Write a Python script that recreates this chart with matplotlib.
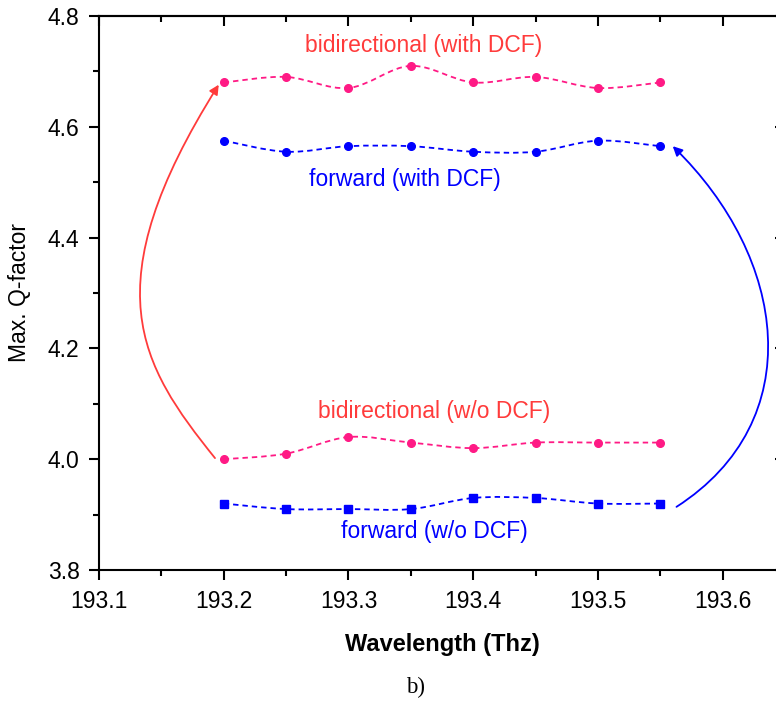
import matplotlib

matplotlib.use("Agg")
import matplotlib.pyplot as plt
import numpy as np
from matplotlib.patches import FancyArrowPatch, PathPatch
from matplotlib.path import Path
from matplotlib.ticker import FormatStrFormatter, MultipleLocator

plt.rcParams["font.family"] = ["Liberation Sans", "DejaVu Sans"]

freq = [193.20, 193.25, 193.30, 193.35, 193.40, 193.45, 193.50, 193.55]
bidir_dcf = [4.68, 4.69, 4.67, 4.71, 4.68, 4.69, 4.67, 4.68]
fwd_dcf = [4.575, 4.555, 4.565, 4.565, 4.555, 4.555, 4.575, 4.565]
bidir_nodcf = [4.00, 4.01, 4.04, 4.03, 4.02, 4.03, 4.03, 4.03]
fwd_nodcf = [3.92, 3.91, 3.91, 3.91, 3.93, 3.93, 3.92, 3.92]

PINK = "#ff1a85"
RED = "#ff3b3b"
BLUE = "#0000ff"

CURVE = [Path.MOVETO, Path.CURVE4, Path.CURVE4, Path.CURVE4]


def smooth_path(x, y):
    # Catmull-Rom through the points, written as cubic Bezier segments
    p = np.column_stack([x, y])
    verts, codes = [p[0]], [Path.MOVETO]
    for i in range(len(p) - 1):
        p0 = p[i - 1] if i > 0 else p[i]
        p3 = p[i + 2] if i + 2 < len(p) else p[i + 1]
        c1 = p[i] + (p[i + 1] - p0) / 6
        c2 = p[i + 1] - (p3 - p[i]) / 6
        verts += [c1, c2, p[i + 1]]
        codes += [Path.CURVE4] * 3
    return Path(verts, codes)


fig = plt.figure(figsize=(7.76, 7.02), dpi=100)
ax = fig.add_axes([99 / 776, 132 / 702, 686 / 776, 554 / 702])

series = [
    (bidir_dcf, PINK, "o"),
    (fwd_dcf, BLUE, "o"),
    (bidir_nodcf, PINK, "o"),
    (fwd_nodcf, BLUE, "s"),
]
for vals, col, mk in series:
    ax.add_patch(PathPatch(smooth_path(freq, vals), fill=False, ec=col,
                           lw=1.3, ls=(0, (3, 2.2))))
    ax.plot(freq, vals, ls="none", marker=mk, ms=5.5, color=col)

txt = dict(fontsize=16.5, ha="center", va="center")
ax.text(193.36, 4.746, "bidirectional (with DCF)", color=RED, **txt)
ax.text(193.345, 4.505, "forward (with DCF)", color=BLUE, **txt)
ax.text(193.369, 4.087, "bidirectional (w/o DCF)", color=RED, **txt)
ax.text(193.369, 3.870, "forward (w/o DCF)", color=BLUE, **txt)

# curved arrows from the w/o-DCF curves up to the with-DCF curves
red_path = Path([(193.193, 4.002), (193.133, 4.170), (193.094, 4.311), (193.196, 4.676)],
                CURVE)
blue_path = Path([(193.563, 3.914), (193.670, 4.069), (193.652, 4.363), (193.560, 4.565)],
                 CURVE)
for pth, col in ((red_path, RED), (blue_path, BLUE)):
    ax.add_patch(FancyArrowPatch(path=pth, arrowstyle="-|>", mutation_scale=14,
                                 color=col, lw=1.3))

ax.set_xlim(193.1, 193.65)
ax.set_ylim(3.8, 4.8)
ax.xaxis.set_major_locator(MultipleLocator(0.1))
ax.xaxis.set_minor_locator(MultipleLocator(0.05))
ax.yaxis.set_major_locator(MultipleLocator(0.2))
ax.yaxis.set_minor_locator(MultipleLocator(0.1))
ax.xaxis.set_major_formatter(FormatStrFormatter("%.1f"))
ax.yaxis.set_major_formatter(FormatStrFormatter("%.1f"))
ax.tick_params(which="both", width=1.5, labelsize=16.5, direction="out",
               top=False, right=False)
ax.tick_params(which="major", length=7.5)
ax.tick_params(which="minor", length=4)
ax.tick_params(axis="x", which="major", pad=7)
ax.tick_params(axis="y", which="major", pad=6.5)
for s in ax.spines.values():
    s.set_linewidth(1.5)

# mirrored ticks on the top and right edges point inward
sec_x = ax.secondary_xaxis("top")
sec_x.xaxis.set_major_locator(MultipleLocator(0.1))
sec_x.xaxis.set_minor_locator(MultipleLocator(0.05))
sec_x.tick_params(which="both", direction="in", width=1.5, labeltop=False)
sec_x.tick_params(which="major", length=7.5)
sec_x.tick_params(which="minor", length=4)
sec_y = ax.secondary_yaxis("right")
sec_y.yaxis.set_major_locator(MultipleLocator(0.2))
sec_y.yaxis.set_minor_locator(MultipleLocator(0.1))
sec_y.tick_params(which="both", direction="in", width=1.5, labelright=False)
sec_y.tick_params(which="major", length=7.5)
sec_y.tick_params(which="minor", length=4)
for sec in (sec_x, sec_y):
    for s in sec.spines.values():
        s.set_linewidth(1.5)

ax.set_xlabel("Wavelength (Thz)", fontsize=17, fontweight="bold", labelpad=14)
ax.set_ylabel("Max. Q-factor", fontsize=16.5, labelpad=12)
fig.text(416 / 776, 1 - 687 / 702, "b)", fontsize=16.5, family="Liberation Serif",
         ha="center", va="center")

fig.savefig("out.png", dpi=100)
